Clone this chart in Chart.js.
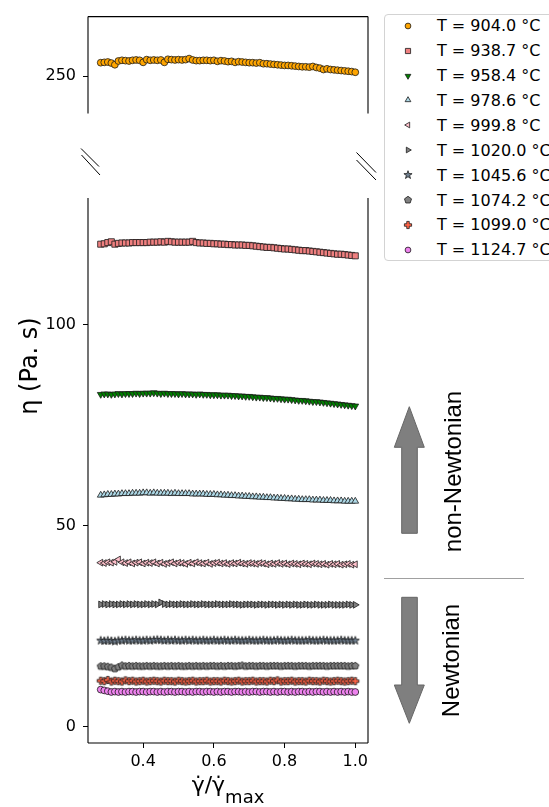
<!DOCTYPE html>
<html>
<head>
<meta charset="utf-8">
<script src="https://cdn.jsdelivr.net/npm/chart.js@4.4.1/dist/chart.umd.min.js"></script>
<style>
  html, body { margin: 0; padding: 0; background: #fff; }
  body { width: 549px; height: 807px; overflow: hidden; position: relative; font-family: 'DejaVu Sans', sans-serif; }
  canvas.plot { position: absolute; left: 0; }
  #topPlot { top: 0; }
  #bottomPlot { top: 130px; }
  #legendFrame { position: absolute; left: 384px; top: 14px; width: 200px; height: 247px; border: 1px solid #d3d3d3; border-radius: 4px; box-sizing: border-box; }
  .row { position: absolute; height: 25px; line-height: 25px; font-size: 16px; color: #000; white-space: nowrap; }
  .mark { position: absolute; }
  #deco { position: absolute; left: 0; top: 0; }
</style>
</head>
<body>
<canvas id="topPlot" class="plot" width="380" height="130"></canvas>
<canvas id="bottomPlot" class="plot" width="380" height="677"></canvas>
<div id="legendFrame"></div>
<div id="legendRows"></div>

<svg id="deco" width="549" height="807">
  <!-- axis break marks -->
  <g stroke="#000" stroke-width="1">
    <line x1="81" y1="148.5" x2="99" y2="166.5"/>
    <line x1="81.5" y1="155" x2="100" y2="175"/>
    <line x1="356.5" y1="152.5" x2="376" y2="172.5"/>
    <line x1="356.5" y1="160" x2="376" y2="180"/>
  </g>
  <line x1="384" y1="578.5" x2="524" y2="578.5" stroke="#a0a0a0" stroke-width="1"/>
  <polygon points="409.3,406.7 424.3,447.3 417.3,447.3 417.3,533.3 401.7,533.3 401.7,447.3 394.3,447.3" fill="#7f7f7f" stroke="#666" stroke-width="1"/>
  <polygon points="401.7,597.3 417.3,597.3 417.3,685 424.3,685 409.3,723.3 394.3,685 401.7,685" fill="#7f7f7f" stroke="#666" stroke-width="1"/>
  <text transform="translate(460.5,471.5) rotate(-90)" text-anchor="middle" font-family="Liberation Sans" font-size="24" fill="#000">non-Newtonian</text>
  <text transform="translate(459.3,660.5) rotate(-90)" text-anchor="middle" font-family="Liberation Sans" font-size="24" fill="#000">Newtonian</text>
  <text transform="translate(36.5,366) rotate(-90)" text-anchor="middle" font-family="DejaVu Sans" font-size="24" fill="#000">η (Pa. s)</text>
  <text x="228" y="792" text-anchor="middle" font-family="DejaVu Sans" font-size="22" fill="#000">γ̇/γ̇<tspan font-size="18" dy="11">max</tspan></text>
</svg>

<script>
// normalised shear rate (shared by every series)
const shearRate = [
  0.28,0.29,0.30,0.31,0.32,0.33,0.34,0.35,0.36,0.37,
  0.38,0.39,0.40,0.41,0.42,0.43,0.44,0.45,0.46,0.47,
  0.48,0.49,0.50,0.51,0.52,0.53,0.54,0.55,0.56,0.57,
  0.58,0.59,0.60,0.61,0.62,0.63,0.64,0.65,0.66,0.67,
  0.68,0.69,0.70,0.71,0.72,0.73,0.74,0.75,0.76,0.77,
  0.78,0.79,0.80,0.81,0.82,0.83,0.84,0.85,0.86,0.87,
  0.88,0.89,0.90,0.91,0.92,0.93,0.94,0.95,0.96,0.97,
  0.98,0.99,1.00];

// viscosity (Pa.s) per temperature
const eta904 = [
  253.9,254.0,254.1,253.8,253.3,254.4,254.6,254.5,254.4,254.6,
  254.7,254.6,254.0,254.8,254.6,254.7,254.6,254.7,254.0,254.9,
  254.8,254.7,254.8,254.7,254.8,255.1,254.7,254.5,254.5,254.6,
  254.6,254.5,254.6,254.3,254.5,254.4,254.2,254.3,254.0,254.2,
  254.1,254.0,253.9,253.9,253.8,253.9,253.6,253.6,253.5,253.4,
  253.3,253.2,253.1,253.1,253.0,252.9,252.8,252.7,252.7,252.6,
  252.8,252.5,252.3,251.9,252.1,251.9,251.8,251.7,251.6,251.5,
  251.4,251.3,251.1];
const eta938 = [
  120.1,120.2,120.5,120.7,120.1,120.3,120.4,120.4,120.4,120.5,
  120.5,120.5,120.5,120.5,120.6,120.6,120.6,120.7,120.6,120.8,
  120.7,120.6,120.6,120.6,120.6,120.6,120.8,120.5,120.4,120.4,
  120.3,120.3,120.2,120.2,120.1,120.1,120.0,120.0,119.9,119.9,
  119.9,119.8,119.8,119.7,119.6,119.5,119.4,119.3,119.3,119.2,
  119.1,119.0,118.9,118.9,118.8,118.7,118.6,118.5,118.5,118.4,
  118.3,118.2,118.1,118.0,117.9,117.8,117.7,117.6,117.6,117.5,
  117.4,117.3,117.2];
const eta958 = [
  82.7,82.8,82.8,82.7,82.8,82.9,82.8,82.9,82.9,82.9,
  83.0,82.9,83.0,83.0,83.0,83.1,83.0,82.9,83.0,82.9,
  82.9,82.9,82.8,82.9,82.8,82.8,82.8,82.7,82.8,82.7,
  82.7,82.6,82.6,82.6,82.5,82.5,82.5,82.4,82.4,82.3,
  82.3,82.2,82.2,82.1,82.0,82.0,81.9,81.9,81.8,81.7,
  81.7,81.6,81.5,81.5,81.4,81.3,81.2,81.2,81.1,81.0,
  80.9,80.9,80.8,80.7,80.6,80.5,80.4,80.3,80.2,80.1,
  80.0,79.9,79.8];
const eta978 = [
  57.6,57.7,57.8,57.8,57.9,57.9,58.0,58.0,58.0,58.1,
  58.1,58.1,58.2,58.2,58.1,58.2,58.1,58.1,58.1,58.1,
  58.0,58.1,58.0,58.0,58.0,58.0,57.9,57.9,57.9,57.9,
  57.8,57.8,57.8,57.7,57.7,57.6,57.6,57.5,57.5,57.4,
  57.4,57.3,57.3,57.2,57.2,57.1,57.1,57.0,57.0,56.9,
  56.9,56.8,56.8,56.7,56.7,56.6,56.6,56.5,56.5,56.5,
  56.4,56.4,56.4,56.3,56.3,56.3,56.2,56.2,56.2,56.1,
  56.1,56.1,56.1];
const eta999 = [
  40.8,40.7,40.9,40.8,41.0,41.6,40.9,40.7,40.9,40.6,
  40.8,40.9,40.6,40.8,40.7,40.9,40.6,40.8,40.5,40.7,
  40.9,40.6,40.8,40.7,40.5,40.8,40.6,40.9,40.7,40.6,
  40.8,40.5,40.7,40.8,40.6,40.7,40.5,40.7,40.6,40.8,
  40.6,40.5,40.7,40.6,40.5,40.7,40.6,40.4,40.6,40.5,
  40.7,40.5,40.6,40.4,40.6,40.5,40.4,40.6,40.5,40.4,
  40.6,40.5,40.4,40.5,40.3,40.5,40.4,40.5,40.3,40.4,
  40.5,40.3,40.4];
const eta1020 = [
  30.4,30.5,30.4,30.5,30.4,30.4,30.5,30.4,30.5,30.4,
  30.5,30.4,30.4,30.5,30.4,30.5,30.4,30.9,30.5,30.4,
  30.5,30.4,30.4,30.5,30.4,30.4,30.5,30.4,30.4,30.5,
  30.4,30.4,30.4,30.5,30.4,30.4,30.4,30.5,30.4,30.4,
  30.3,30.4,30.4,30.4,30.3,30.4,30.4,30.3,30.4,30.4,
  30.3,30.4,30.3,30.4,30.3,30.4,30.3,30.3,30.4,30.3,
  30.3,30.4,30.3,30.3,30.3,30.4,30.3,30.3,30.3,30.3,
  30.4,30.3,30.3];
const eta1045 = [
  21.4,21.3,21.4,21.3,21.2,21.4,21.4,21.5,21.4,21.4,
  21.5,21.4,21.4,21.5,21.4,21.5,21.6,21.5,21.4,21.5,
  21.4,21.5,21.4,21.4,21.5,21.4,21.5,21.4,21.4,21.5,
  21.4,21.4,21.5,21.4,21.4,21.5,21.4,21.4,21.5,21.4,
  21.4,21.4,21.5,21.4,21.4,21.4,21.5,21.4,21.4,21.4,
  21.5,21.4,21.4,21.4,21.5,21.4,21.4,21.4,21.4,21.5,
  21.4,21.4,21.4,21.5,21.4,21.4,21.4,21.4,21.5,21.4,
  21.4,21.4,21.4];
const eta1074 = [
  15.0,15.0,14.9,14.7,14.4,14.8,15.2,15.0,15.1,15.0,
  15.1,15.0,15.0,15.1,15.0,15.1,15.0,15.0,15.1,15.0,
  15.1,15.0,15.1,15.0,15.0,15.1,15.0,15.1,15.0,15.1,
  15.0,15.1,15.1,15.0,15.1,15.0,15.1,15.1,15.0,15.1,
  15.2,15.0,15.1,15.1,15.0,15.1,15.1,15.0,15.1,15.1,
  15.1,15.0,15.1,15.1,15.1,15.0,15.1,15.1,15.1,15.0,
  15.1,15.1,15.1,15.1,15.0,15.1,15.1,15.1,15.1,15.1,
  15.0,15.1,15.1];
const eta1099 = [
  11.4,11.3,11.6,11.2,11.4,11.3,11.2,11.5,11.3,11.4,
  11.2,11.3,11.4,11.2,11.3,11.4,11.3,11.2,11.4,11.3,
  11.3,11.2,11.4,11.3,11.2,11.3,11.4,11.2,11.3,11.3,
  11.4,11.2,11.3,11.3,11.2,11.4,11.3,11.2,11.3,11.4,
  11.2,11.3,11.3,11.4,11.2,11.3,11.3,11.2,11.4,11.3,
  11.5,11.2,11.3,11.3,11.4,11.2,11.3,11.3,11.2,11.4,
  11.3,11.3,11.2,11.4,11.3,11.2,11.3,11.4,11.3,11.2,
  11.3,11.4,11.3];
const eta1124 = [
  9.2,9.0,8.8,8.6,8.7,8.6,8.7,8.6,8.7,8.7,
  8.6,8.7,8.7,8.6,8.7,8.7,8.6,8.7,8.6,8.7,
  8.7,8.6,8.7,8.7,8.6,8.7,8.6,8.7,8.7,8.6,
  8.7,8.7,8.6,8.7,8.6,8.7,8.7,8.6,8.7,8.7,
  8.6,8.7,8.6,8.7,8.7,8.6,8.7,8.7,8.6,8.7,
  8.6,8.7,8.7,8.6,8.7,8.6,8.7,8.7,8.6,8.7,
  8.6,8.7,8.7,8.6,8.7,8.6,8.7,8.6,8.7,8.6,
  8.7,8.6,8.6];

const temperatures = ['904.0', '938.7', '958.4', '978.6', '999.8', '1020.0', '1045.6', '1074.2', '1099.0', '1124.7'];
const allSeries = [eta904, eta938, eta958, eta978, eta999, eta1020, eta1045, eta1074, eta1099, eta1124];
const xTicks = [0.4, 0.6, 0.8, 1.0];
const yTicksTop = [250];
const yTicksBottom = [0, 50, 100];

const EDGE = '#1a1a1a';

// extra marker shapes chart.js does not have
function customMarker(shape, fill) {
  const c = document.createElement('canvas');
  c.width = 12; c.height = 12;
  const g = c.getContext('2d');
  g.translate(6, 6);
  g.beginPath();
  let pts = [];
  if (shape === 'star') {
    for (let k = 0; k < 10; k++) {
      const r = k % 2 ? 1.7 : 4.3;
      const a = -Math.PI / 2 + k * Math.PI / 5;
      pts.push([r * Math.cos(a), r * Math.sin(a)]);
    }
  } else if (shape === 'pentagon') {
    for (let k = 0; k < 5; k++) {
      const a = -Math.PI / 2 + k * 2 * Math.PI / 5;
      pts.push([3.7 * Math.cos(a), 3.7 * Math.sin(a)]);
    }
  } else {
    const a = 3.6, b = 1.25;
    pts = [[-b,-a],[b,-a],[b,-b],[a,-b],[a,b],[b,b],[b,a],[-b,a],[-b,b],[-a,b],[-a,-b],[-b,-b]];
  }
  pts.forEach((p, k) => k ? g.lineTo(p[0], p[1]) : g.moveTo(p[0], p[1]));
  g.closePath();
  g.fillStyle = fill;
  g.fill();
  g.lineWidth = 0.8;
  g.strokeStyle = EDGE;
  g.stroke();
  return c;
}

const markers = [
  { style: 'circle',   fill: '#ffa500', rotation: 0,   radius: 3.4 },
  { style: 'rect',     fill: '#f08080', rotation: 0,   radius: 4.3 },
  { style: 'triangle', fill: '#008000', rotation: 180, radius: 3.9 },
  { style: 'triangle', fill: '#add8e6', rotation: 0,   radius: 3.9 },
  { style: 'triangle', fill: '#ffc0cb', rotation: 270, radius: 3.9 },
  { style: 'triangle', fill: '#808080', rotation: 90,  radius: 3.9 },
  { style: customMarker('star', '#708090'),     fill: '#708090', rotation: 0, radius: 4 },
  { style: customMarker('pentagon', '#808080'), fill: '#808080', rotation: 0, radius: 4 },
  { style: customMarker('plus', '#ff6347'),     fill: '#ff6347', rotation: 0, radius: 4 },
  { style: 'circle',   fill: '#ee82ee', rotation: 0,   radius: 3.4 }
];

function makeDataset(i) {
  const m = markers[i];
  return {
    label: 'T = ' + temperatures[i] + ' °C',
    data: shearRate.map((x, k) => ({ x: x, y: allSeries[i][k] })),
    showLine: false,
    pointStyle: m.style,
    pointRotation: m.rotation,
    pointRadius: m.radius,
    pointHoverRadius: m.radius,
    pointBackgroundColor: m.fill,
    pointBorderColor: EDGE,
    pointBorderWidth: 0.8
  };
}

// matplotlib style frame
const spines = {
  id: 'spines',
  afterDraw(chart, args, opts) {
    const a = chart.chartArea, ctx = chart.ctx;
    const sides = opts.sides || [];
    ctx.save();
    ctx.strokeStyle = '#000';
    ctx.lineWidth = 1.1;
    ctx.beginPath();
    if (sides.includes('left'))   { ctx.moveTo(a.left, a.top);  ctx.lineTo(a.left, a.bottom); }
    if (sides.includes('right'))  { ctx.moveTo(a.right, a.top); ctx.lineTo(a.right, a.bottom); }
    if (sides.includes('top'))    { ctx.moveTo(a.left, a.top);  ctx.lineTo(a.right, a.top); }
    if (sides.includes('bottom')) { ctx.moveTo(a.left, a.bottom); ctx.lineTo(a.right, a.bottom); }
    ctx.stroke();
    ctx.restore();
  }
};

Chart.defaults.font.family = "'DejaVu Sans', sans-serif";
Chart.defaults.font.size = 16;
Chart.defaults.color = '#000';

function scaleOptions(yMin, yMax, yTicks, showX) {
  return {
    x: {
      type: 'linear',
      min: 0.244,
      max: 1.036,
      display: showX,
      border: { display: false },
      grid: { drawOnChartArea: false, drawTicks: true, tickLength: 5, color: '#000', lineWidth: 1 },
      ticks: { padding: 4, maxRotation: 0, callback: v => v.toFixed(1) },
      afterBuildTicks: s => { s.ticks = xTicks.map(v => ({ value: v })); },
      afterFit: s => { s.height = showX ? 64 : 0; }
    },
    y: {
      type: 'linear',
      min: yMin,
      max: yMax,
      border: { display: false },
      grid: { drawOnChartArea: false, drawTicks: true, tickLength: 5, color: '#000', lineWidth: 1 },
      ticks: { padding: 7 },
      afterBuildTicks: s => { s.ticks = yTicks.map(v => ({ value: v })); },
      afterFit: s => { s.width = 88; }
    }
  };
}

function baseOptions(padding, scales, sides) {
  return {
    responsive: false,
    animation: false,
    events: [],
    layout: { padding: padding, autoPadding: false },
    scales: scales,
    plugins: { legend: { display: false }, tooltip: { enabled: false }, spines: { sides: sides } }
  };
}

new Chart(document.getElementById('topPlot'), {
  type: 'scatter',
  data: { datasets: [makeDataset(0)] },
  options: baseOptions({ top: 10, right: 12, bottom: 6, left: 0 },
    scaleOptions(239.05, 267.4, yTicksTop, false), ['left', 'right', 'top']),
  plugins: [spines]
});

new Chart(document.getElementById('bottomPlot'), {
  type: 'scatter',
  data: { datasets: allSeries.slice(1).map((s, i) => makeDataset(i + 1)) },
  options: baseOptions({ top: 68, right: 12, bottom: 0, left: 0 },
    scaleOptions(-4.1, 131.6, yTicksBottom, true), ['left', 'right', 'bottom']),
  plugins: [spines]
});

// legend
const rows = document.getElementById('legendRows');
temperatures.forEach((t, i) => {
  const cy = 25.7 + 24.9 * i;
  const m = markers[i];
  const cv = document.createElement('canvas');
  cv.width = 16; cv.height = 16;
  cv.className = 'mark';
  cv.style.left = (407.7 - 8) + 'px';
  cv.style.top = (cy - 8) + 'px';
  const g = cv.getContext('2d');
  g.fillStyle = m.fill;
  g.strokeStyle = EDGE;
  g.lineWidth = 0.8;
  if (Chart.helpers && Chart.helpers.drawPoint) {
    Chart.helpers.drawPoint(g, { pointStyle: m.style, rotation: m.rotation, radius: m.radius * 0.85, borderWidth: 0.8 }, 8, 8);
  } else {
    g.beginPath(); g.arc(8, 8, 3, 0, Math.PI * 2); g.fill(); g.stroke();
  }
  rows.appendChild(cv);
  const d = document.createElement('div');
  d.className = 'row';
  d.style.left = '437px';
  d.style.top = (cy - 12.5) + 'px';
  d.textContent = 'T = ' + t + ' °C';
  rows.appendChild(d);
});
</script>
</body>
</html>
